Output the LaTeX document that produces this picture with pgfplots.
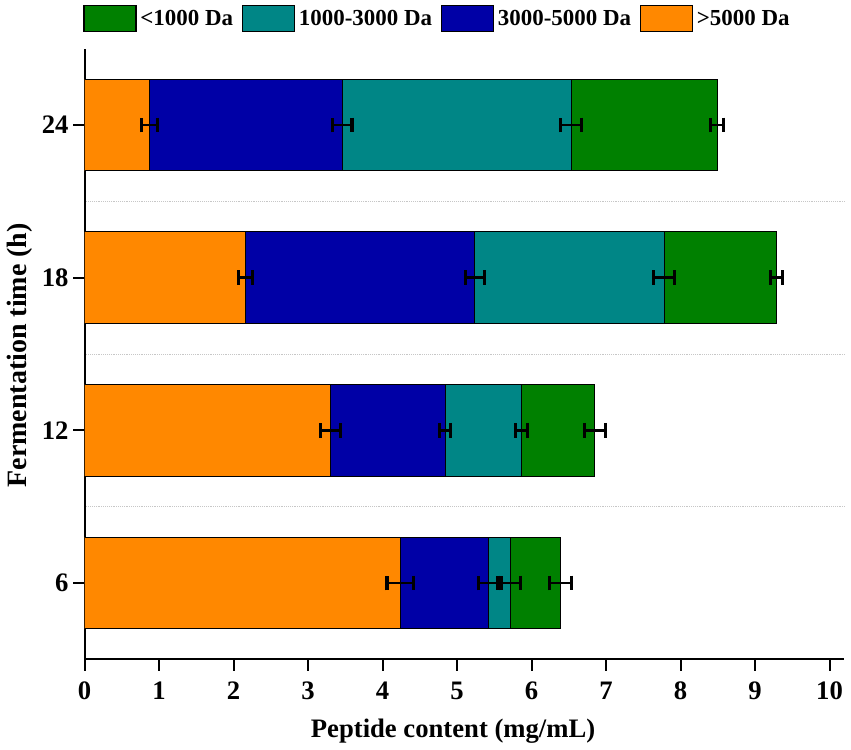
\documentclass[border=0pt]{standalone}
\usepackage{pgfplots}
\pgfplotsset{compat=1.18}
\usepackage{fontspec}
\setmainfont{Liberation Serif}
\definecolor{cgreen}{RGB}{0,128,0}
\definecolor{cteal}{RGB}{0,134,134}
\definecolor{cblue}{RGB}{0,0,166}
\definecolor{corange}{RGB}{255,136,0}
\pgfplotsset{base/.style={width=570pt,height=458pt,scale only axis,
  xmin=0,xmax=10.2,ymin=-0.5,ymax=3.5}}
\begin{document}
\begin{tikzpicture}
\useasboundingbox (-63.4pt,-67.3pt) rectangle (574.9pt,494.5pt);
\begin{axis}[base, xbar stacked, bar width=0.6,
  axis lines*=left,
  axis line style={line width=1.5pt},
  tick style={line width=1.5pt, black},
  tick align=outside,
  major tick length=8.5pt,
  xtick={0,1,...,10},
  ytick={0,1,2,3}, yticklabels={6,12,18,24},
  minor ytick={0.5,1.5,2.5}, minor tick length=0pt,
  yminorgrids=true,
  minor grid style={densely dotted, black!22, line width=0.6pt},
  ticklabel style={font=\fontsize{20}{20}\selectfont\bfseries},
  xticklabel style={yshift=-5pt},
  /pgf/number format/assume math mode=true,
  xlabel={Peptide content (mg/mL)},
  ylabel={Fermentation time (h)},
  xlabel style={at={(axis description cs:0.485,0)}, anchor=base, yshift=-58.3pt,
    font=\fontsize{20}{24}\selectfont\bfseries},
  ylabel style={xshift=-1pt, font=\fontsize{21}{24}\selectfont\bfseries},
  legend style={at={(0,1)}, anchor=south west, yshift=12.3pt, xshift=-1.1pt,
    draw=none, fill=none, inner sep=0pt, nodes={inner sep=0pt},
    font=\fontsize{17.2}{17.2}\selectfont\bfseries,
    /tikz/every odd column/.append style={column sep=2.8pt},
    /tikz/every even column/.append style={column sep=6.6pt}},
  legend columns=4,
  legend image code/.code={\draw[#1] (0pt,-9.6pt) rectangle (39pt,9.6pt);},
]
\addlegendimage{fill=cgreen, draw=black, line width=1pt}
\addlegendentry{<1000 Da}
\addlegendimage{fill=cteal, draw=black, line width=1pt}
\addlegendentry{1000-3000 Da}
\addlegendimage{fill=cblue, draw=black, line width=1pt}
\addlegendentry{3000-5000 Da}
\addlegendimage{fill=corange, draw=black, line width=1pt}
\addlegendentry{>5000 Da}
\addplot[fill=corange, draw=black, line width=0.7pt] coordinates {(4.24,0) (3.30,1) (2.16,2) (0.87,3)};
\addplot[fill=cblue, draw=black, line width=0.7pt] coordinates {(1.18,0) (1.54,1) (3.08,2) (2.59,3)};
\addplot[fill=cteal, draw=black, line width=0.7pt] coordinates {(0.30,0) (1.03,1) (2.54,2) (3.07,3)};
\addplot[fill=cgreen, draw=black, line width=0.7pt] coordinates {(0.67,0) (0.98,1) (1.51,2) (1.96,3)};
\end{axis}
\begin{axis}[base, hide axis]
\addplot[draw=none, mark=none,
  error bars/.cd, x dir=both, x explicit, error mark=|,
  error bar style={line width=2.1pt, black},
  error mark options={line width=2.3pt, mark size=5.5pt, black}]
  coordinates {
  (4.24,0) +- (0.18,0)
  (5.42,0) +- (0.13,0)
  (5.72,0) +- (0.13,0)
  (6.39,0) +- (0.15,0)
  (3.30,1) +- (0.13,0)
  (4.84,1) +- (0.07,0)
  (5.87,1) +- (0.08,0)
  (6.85,1) +- (0.145,0)
  (2.16,2) +- (0.09,0)
  (5.24,2) +- (0.13,0)
  (7.78,2) +- (0.14,0)
  (9.29,2) +- (0.08,0)
  (0.87,3) +- (0.105,0)
  (3.46,3) +- (0.13,0)
  (6.53,3) +- (0.14,0)
  (8.49,3) +- (0.09,0)
  };
\end{axis}
\end{tikzpicture}
\end{document}
